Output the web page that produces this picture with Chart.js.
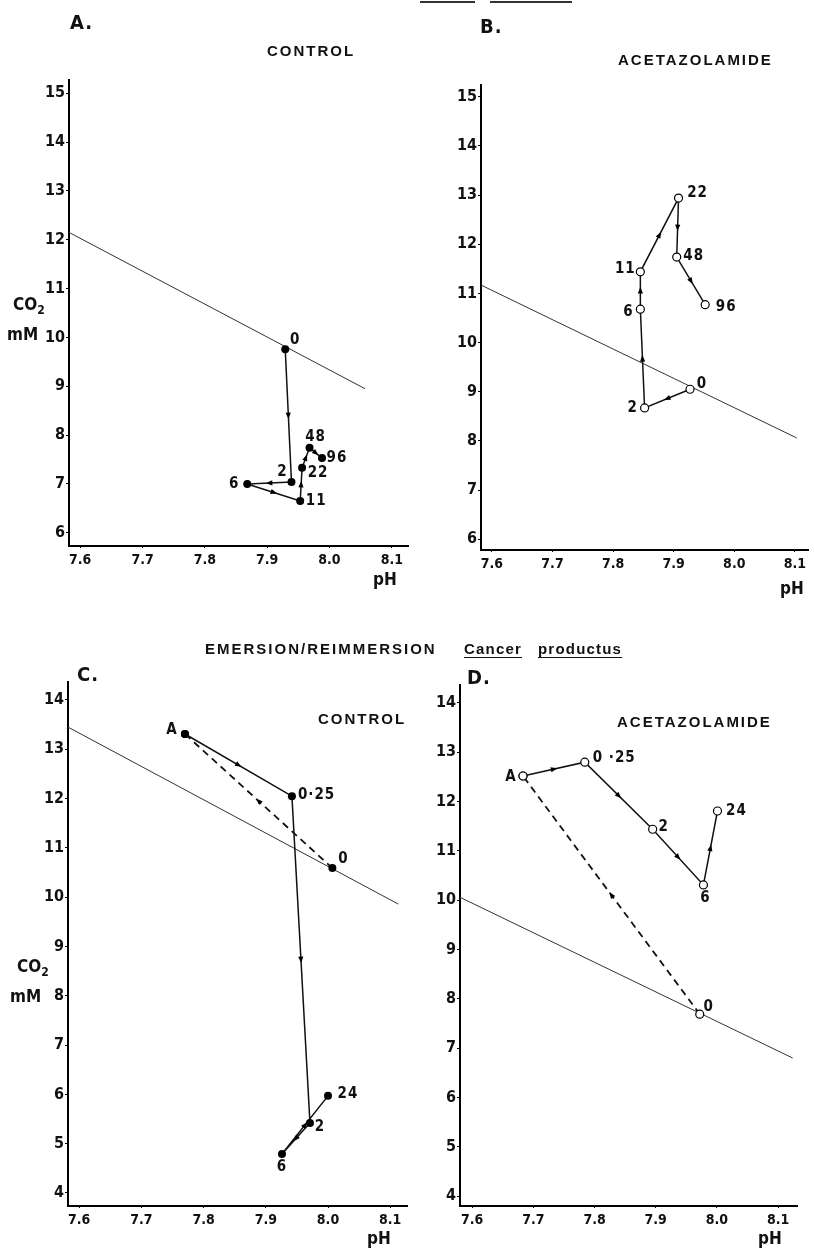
<!DOCTYPE html>
<html lang="en">

<head>
  <meta charset="UTF-8" />
  <title>Emersion / reimmersion - Cancer productus</title>
  <script src="https://cdn.jsdelivr.net/npm/chart.js"></script>
  <style>
    * {
      box-sizing: border-box;
    }

    body,
    html {
      margin: 0;
      width: 814px;
      height: 1248px;
      background: #fff;
      color: #111;
      font-family: "Liberation Sans Narrow", "DejaVu Sans Condensed", "Arial Narrow", sans-serif;
      overflow: hidden;
    }

    .page {
      position: relative;
      width: 814px;
      height: 1248px;
    }

    .panel {
      position: absolute;
    }

    .panel canvas {
      display: block;
    }

    .txt {
      position: absolute;
      font-weight: 700;
      line-height: 1;
      white-space: nowrap;
    }

    .letter {
      font-size: 20px;
      letter-spacing: 1px;
    }

    .cond {
      font-family: "Liberation Sans", "DejaVu Sans", sans-serif;
      font-size: 15px;
      letter-spacing: 2px;
    }

    .species {
      font-family: "Liberation Sans", "DejaVu Sans", sans-serif;
      font-size: 15px;
      letter-spacing: 1.2px;
      text-decoration: underline;
      text-underline-offset: 3px;
    }

    .axlab {
      font-size: 17px;
    }

    .axlab sub {
      font-size: 12px;
    }

    .rule {
      position: absolute;
      height: 2px;
      background: #333;
    }
  </style>
</head>

<body>
  <div class="page">
    <div class="rule" style="left:420px; top:1px; width:55px;"></div>
    <div class="rule" style="left:490px; top:1px; width:82px;"></div>

    <div class="panel" style="left:0; top:0;"><canvas id="chartA" width="414" height="610"></canvas></div>
    <div class="panel" style="left:414px; top:0;"><canvas id="chartB" width="400" height="610"></canvas></div>
    <div class="panel" style="left:0; top:610px;"><canvas id="chartC" width="414" height="638"></canvas></div>
    <div class="panel" style="left:414px; top:610px;"><canvas id="chartD" width="400" height="638"></canvas></div>

    <!-- panel headings and axis titles -->
    <div class="txt letter" style="left:70px; top:12px;">A.</div>
    <div class="txt cond" style="left:267px; top:43px;">CONTROL</div>
    <div class="txt letter" style="left:480px; top:16px;">B.</div>
    <div class="txt cond" style="left:618px; top:52px;">ACETAZOLAMIDE</div>
    <div class="txt axlab" style="left:13px; top:296px;">CO<sub>2</sub></div>
    <div class="txt axlab" style="left:7px; top:326px;">mM</div>
    <div class="txt axlab" style="left:373px; top:571px;">pH</div>
    <div class="txt axlab" style="left:780px; top:580px;">pH</div>

    <div class="txt cond" style="left:205px; top:641px;">EMERSION/REIMMERSION</div>
    <div class="txt species" style="left:464px; top:641px;">Cancer</div>
    <div class="txt species" style="left:538px; top:641px;">productus</div>
    <div class="txt letter" style="left:77px; top:664px;">C.</div>
    <div class="txt cond" style="left:318px; top:711px;">CONTROL</div>
    <div class="txt letter" style="left:467px; top:667px;">D.</div>
    <div class="txt cond" style="left:617px; top:714px;">ACETAZOLAMIDE</div>
    <div class="txt axlab" style="left:17px; top:958px;">CO<sub>2</sub></div>
    <div class="txt axlab" style="left:10px; top:988px;">mM</div>
    <div class="txt axlab" style="left:367px; top:1230px;">pH</div>
    <div class="txt axlab" style="left:758px; top:1230px;">pH</div>
  </div>

  <script>
    // axis ticks
    const pHTicks = [7.6, 7.7, 7.8, 7.9, 8.0, 8.1];
    const co2TicksTop = [6, 7, 8, 9, 10, 11, 12, 13, 14, 15];
    const co2TicksBottom = [4, 5, 6, 7, 8, 9, 10, 11, 12, 13, 14];

    // A. control (hours)
    const labelsA = ['0', '2', '6', '11', '22', '48', '96'];
    const pHA = [7.929, 7.939, 7.868, 7.953, 7.956, 7.968, 7.988];
    const co2A = [9.76, 7.04, 7.00, 6.65, 7.33, 7.74, 7.53];
    const bufferPhA = [7.582, 8.057];
    const bufferCo2A = [12.15, 8.95];

    // B. acetazolamide
    const labelsB = ['0', '2', '6', '11', '22', '48', '96'];
    const pHB = [7.927, 7.852, 7.845, 7.845, 7.908, 7.905, 7.952];
    const co2B = [9.05, 8.67, 10.68, 11.44, 12.94, 11.74, 10.77];
    const bufferPhB = [7.582, 8.103];
    const bufferCo2B = [11.17, 8.06];

    // C. emersion / reimmersion, control
    const emersionLabelsC = ['0', ''];
    const emersionPhC = [8.007, 7.770];
    const emersionCo2C = [10.59, 13.31];
    const labelsC = ['A', '0·25', '2', '6', '24'];
    const pHC = [7.770, 7.942, 7.971, 7.926, 8.000];
    const co2C = [13.31, 12.05, 5.42, 4.79, 5.97];
    const bufferPhC = [7.582, 8.113];
    const bufferCo2C = [13.45, 9.86];

    // D. emersion / reimmersion, acetazolamide
    const emersionLabelsD = ['0', ''];
    const emersionPhD = [7.972, 7.683];
    const emersionCo2D = [7.69, 12.52];
    const labelsD = ['A', '0 ·25', '2', '6', '24'];
    const pHD = [7.683, 7.784, 7.895, 7.978, 8.001];
    const co2D = [12.52, 12.80, 11.44, 10.31, 11.81];
    const bufferPhD = [7.580, 8.124];
    const bufferCo2D = [10.06, 6.80];

    // label placement next to each point: [dx, dy, align]
    const offsetsA = [[10, -9], [-9, -10], [-13, 0], [16, 0], [16, 5], [6, -11], [15, 0]];
    const offsetsB = [[12, -5], [-12, 0], [-12, 3], [-15, -3], [19, -5], [17, -1], [21, 2]];
    const offsetsC = [[-13, -4], [6, -1, 'left'], [10, 4], [0, 13], [20, -2]];
    const offsetsCem = [[11, -9], [0, 0]];
    const offsetsD = [[-12, 1], [8, -4, 'left'], [11, -2], [2, 13], [19, 0]];
    const offsetsDem = [[9, -7], [0, 0]];

    const FONT = '"Liberation Sans Narrow", "DejaVu Sans Condensed", "Arial Narrow", sans-serif';

    const pts = (xs, ys) => xs.map((x, i) => ({ x: x, y: ys[i] }));

    const decor = {
      id: 'decor',
      afterDatasetsDraw(chart) {
        const ctx = chart.ctx;
        chart.data.datasets.forEach((ds, i) => {
          const els = chart.getDatasetMeta(i).data;
          if (ds.arrows) {
            for (let j = 0; j < els.length - 1; j++) {
              const a = els[j], b = els[j + 1];
              ctx.save();
              ctx.translate((a.x + b.x) / 2, (a.y + b.y) / 2);
              ctx.rotate(Math.atan2(b.y - a.y, b.x - a.x));
              ctx.beginPath();
              ctx.moveTo(3.5, 0);
              ctx.lineTo(-3, -2.6);
              ctx.lineTo(-3, 2.6);
              ctx.closePath();
              ctx.fillStyle = '#000';
              ctx.fill();
              ctx.restore();
            }
          }
          if (ds.pointLabels) {
            ctx.save();
            ctx.font = 'bold 15px ' + FONT;
            ctx.fillStyle = '#111';
            ctx.textBaseline = 'middle';
            if ('letterSpacing' in ctx) ctx.letterSpacing = '1px';
            ds.pointLabels.forEach((t, j) => {
              if (!t) return;
              const off = ds.labelOffsets[j];
              ctx.textAlign = off[2] || 'center';
              ctx.fillText(t, els[j].x + off[0], els[j].y + off[1]);
            });
            ctx.restore();
          }
        });
      }
    };

    function pathSet(data, labels, offsets, open, dashed) {
      return {
        data: data,
        showLine: true,
        borderColor: '#111',
        borderWidth: dashed ? 1.8 : 1.5,
        borderDash: dashed ? [7, 5] : [],
        pointRadius: 4,
        pointBorderWidth: open ? 1.2 : 0,
        pointBackgroundColor: open ? '#fff' : '#000',
        pointBorderColor: '#000',
        arrows: true,
        pointLabels: labels,
        labelOffsets: offsets
      };
    }

    function bufferSet(xs, ys) {
      return {
        data: pts(xs, ys),
        showLine: true,
        borderColor: '#333',
        borderWidth: 1,
        pointRadius: 0
      };
    }

    function desenhar(id, datasets, xr, yr, yTicks, pad) {
      new Chart(document.getElementById(id), {
        type: 'scatter',
        data: { datasets: datasets },
        options: {
          responsive: false,
          animation: false,
          layout: { padding: pad },
          plugins: { legend: { display: false }, tooltip: { enabled: false } },
          scales: {
            x: {
              type: 'linear',
              min: xr[0],
              max: xr[1],
              afterBuildTicks: s => { s.ticks = pHTicks.map(v => ({ value: v })); },
              afterFit: s => { s.height = 30; },
              border: { display: true, color: '#000', width: 2 },
              grid: { drawOnChartArea: false, drawTicks: true, tickLength: 2, color: '#000' },
              ticks: {
                autoSkip: false,
                maxRotation: 0,
                padding: 4,
                color: '#111',
                font: { family: FONT, size: 14, weight: 'bold' },
                callback: v => v.toFixed(1)
              }
            },
            y: {
              type: 'linear',
              min: yr[0],
              max: yr[1],
              afterBuildTicks: s => { s.ticks = yTicks.map(v => ({ value: v })); },
              afterFit: s => { s.width = 40; },
              border: { display: true, color: '#000', width: 2 },
              grid: { drawOnChartArea: false, drawTicks: true, tickLength: 3, color: '#000' },
              ticks: {
                autoSkip: false,
                padding: 1,
                color: '#111',
                font: { family: FONT, size: 16, weight: 'bold' },
                callback: v => String(v)
              }
            }
          }
        },
        plugins: [decor]
      });
    }

    desenhar('chartA', [
      pathSet(pts(pHA, co2A), labelsA, offsetsA, false, false),
      bufferSet(bufferPhA, bufferCo2A)
    ], [7.582, 8.126], [5.73, 15.27], co2TicksTop, { left: 29, right: 6, top: 80, bottom: 34 });

    desenhar('chartB', [
      pathSet(pts(pHB, co2B), labelsB, offsetsB, true, false),
      bufferSet(bufferPhB, bufferCo2B)
    ], [7.582, 8.123], [5.78, 15.24], co2TicksTop, { left: 27, right: 0, top: 85, bottom: 30 });

    desenhar('chartC', [
      pathSet(pts(pHC, co2C), labelsC, offsetsC, false, false),
      pathSet(pts(emersionPhC, emersionCo2C), emersionLabelsC, offsetsCem, false, true),
      bufferSet(bufferPhC, bufferCo2C)
    ], [7.582, 8.127], [3.736, 14.365], co2TicksBottom, { left: 28, right: 7, top: 72, bottom: 12 });

    desenhar('chartD', [
      pathSet(pts(pHD, co2D), labelsD, offsetsD, true, false),
      pathSet(pts(emersionPhD, emersionCo2D), emersionLabelsD, offsetsDem, true, true),
      bufferSet(bufferPhD, bufferCo2D)
    ], [7.580, 8.131], [3.80, 14.365], co2TicksBottom, { left: 6, right: 17, top: 75, bottom: 12 });
  </script>
</body>

</html>
